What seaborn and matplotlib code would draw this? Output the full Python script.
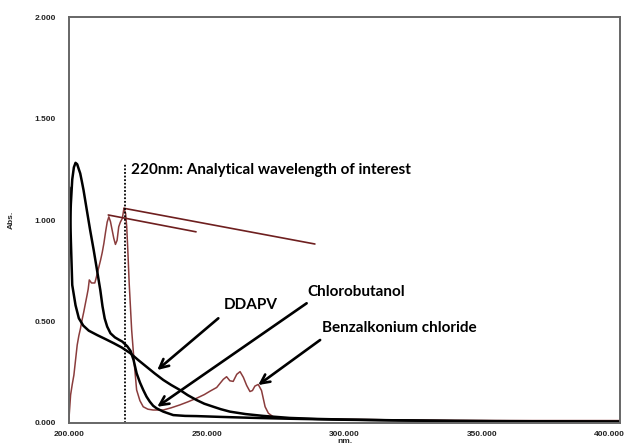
import matplotlib
matplotlib.use("Agg")
import matplotlib.pyplot as plt
import matplotlib.transforms as mtransforms
import seaborn as sns
import pandas as pd

# UV absorption spectra (wavelength in nm, absorbance)
ddapv_nm = [200.0, 200.5, 201.0, 202.2, 203.4, 205.0, 207.0, 210.1, 213.0, 216.1,
            219.0, 222.0, 225.0, 228.0, 231.0, 234.1, 237.0, 240.1, 243.0, 246.2,
            249.0, 252.3, 255.0, 258.3, 264.0, 270.4, 280.0, 290.0, 300.0, 320.0,
            340.0, 360.0, 380.0, 400.0]
ddapv_abs = [1.16, 0.90, 0.68, 0.58, 0.516, 0.48, 0.455, 0.433, 0.414, 0.393,
             0.372, 0.345, 0.31, 0.277, 0.244, 0.212, 0.187, 0.163, 0.137, 0.113,
             0.095, 0.080, 0.068, 0.056, 0.044, 0.035, 0.025, 0.020, 0.017, 0.013,
             0.010, 0.009, 0.008, 0.007]

chloro_nm = [200.0, 200.5, 201.0, 201.6, 202.2, 202.8, 203.4, 203.9, 204.5, 205.1,
             206.3, 207.5, 208.8, 210.0, 211.2, 212.0, 212.8, 213.7, 214.9, 216.5,
             218.0, 219.2, 221.0, 222.2, 223.3, 224.4, 225.6, 226.8, 228.0, 229.2,
             230.4, 231.7, 234.1, 237.7, 242.0, 246.2, 255.0, 265.0, 280.0, 300.0,
             330.0, 360.0, 400.0]
chloro_abs = [0.90, 1.08, 1.20, 1.26, 1.282, 1.275, 1.25, 1.23, 1.19, 1.148,
              1.049, 0.951, 0.852, 0.754, 0.655, 0.575, 0.515, 0.475, 0.442, 0.422,
              0.410, 0.401, 0.378, 0.355, 0.31, 0.245, 0.20, 0.163, 0.13, 0.105,
              0.085, 0.072, 0.056, 0.039, 0.035, 0.034, 0.030, 0.026, 0.021, 0.016,
              0.011, 0.008, 0.006]

benz_nm = [199.8, 200.4, 201.0, 201.6, 202.2, 202.8, 203.4, 204.0, 204.6, 205.2,
           205.8, 206.4, 206.8, 207.2, 208.0, 209.2, 209.6, 210.1, 210.7, 211.3,
           211.9, 212.5, 213.1, 213.7, 214.3, 214.9, 215.5, 216.1, 216.7, 217.3,
           217.9, 218.5, 219.2, 219.8, 220.4, 220.8, 221.2, 221.7, 222.2, 222.6,
           223.5, 224.4, 225.6, 226.8, 228.5, 230.4, 234.1, 237.0, 240.1, 243.0,
           246.2, 249.0, 251.1, 253.5, 255.9, 257.1, 258.3, 259.5, 260.8, 262.0,
           263.2, 264.4, 265.6, 266.5, 267.4, 268.6, 269.8, 271.1, 272.3, 274.1,
           276.0, 280.0, 290.0, 300.0, 320.0, 340.0, 360.0, 380.0, 400.0]
benz_abs = [0.02, 0.138, 0.19, 0.236, 0.31, 0.384, 0.43, 0.466, 0.51, 0.548,
            0.59, 0.631, 0.66, 0.705, 0.69, 0.69, 0.71, 0.737, 0.77, 0.803,
            0.84, 0.885, 0.94, 0.99, 1.016, 0.992, 0.951, 0.91, 0.88, 0.90,
            0.967, 0.99, 1.008, 1.058, 1.033, 0.967, 0.852, 0.688, 0.56, 0.458,
            0.30, 0.163, 0.11, 0.08, 0.068, 0.064, 0.064, 0.075, 0.089, 0.104,
            0.122, 0.14, 0.157, 0.175, 0.215, 0.228, 0.208, 0.205, 0.24, 0.253,
            0.225, 0.185, 0.155, 0.16, 0.182, 0.19, 0.16, 0.08, 0.048, 0.03,
            0.024, 0.022, 0.020, 0.018, 0.015, 0.013, 0.012, 0.012, 0.012]

# peak marker leader lines: (start nm, start abs, end nm, end abs)
peak_leaders = [(214.1, 1.025, 246.0, 0.942),
                (219.8, 1.058, 289.2, 0.882)]

analytical_nm = 220.0
x_ticks = [200, 250, 300, 350, 400]
y_ticks = [0.0, 0.5, 1.0, 1.5, 2.0]

sns.set_style("white")
plt.rcParams["font.family"] = ["Liberation Sans", "DejaVu Sans"]

fig = plt.figure(figsize=(6.26, 4.47), dpi=100)
ax = fig.add_axes([0.111, 0.0537, 0.879, 0.908])

brown = "#8a3c3c"
df_d = pd.DataFrame({"nm": ddapv_nm, "abs": ddapv_abs})
df_c = pd.DataFrame({"nm": chloro_nm, "abs": chloro_abs})
df_b = pd.DataFrame({"nm": benz_nm, "abs": benz_abs})
sns.lineplot(data=df_b, x="nm", y="abs", ax=ax, color=brown, lw=1.1, sort=False, estimator=None)
sns.lineplot(data=df_d, x="nm", y="abs", ax=ax, color="black", lw=1.8, sort=False, estimator=None)
sns.lineplot(data=df_c, x="nm", y="abs", ax=ax, color="black", lw=1.8, sort=False, estimator=None)

for x0, y0, x1, y1 in peak_leaders:
    ax.plot([x0, x1], [y0, y1], color="#6e1f1f", lw=1.2)

ax.plot([analytical_nm, analytical_nm], [0, 1.28], color="black", lw=1.3, ls=(0, (1, 1)))

ax.set_xlim(200, 400)
ax.set_ylim(0, 2.0)
ax.set_xticks(x_ticks)
ax.set_yticks(y_ticks)
ax.set_xticklabels([f"{v:.3f}" for v in x_ticks], fontsize=6, fontweight="bold", color="#222222")
ax.set_yticklabels([f"{v:.3f}" for v in y_ticks], fontsize=6, fontweight="bold", color="#222222")
ax.tick_params(axis="both", direction="in", length=4, width=1, color="#555555")
ax.tick_params(axis="x", pad=6)
ax.tick_params(axis="y", pad=10)
# keep the last wavelength label inside the figure
last = ax.get_xticklabels()[-1]
last.set_transform(last.get_transform() + mtransforms.ScaledTranslation(-10 / 100, 0, fig.dpi_scale_trans))
for s in ax.spines.values():
    s.set_color("#666666")
    s.set_linewidth(1.4)
ax.set_xlabel("nm.", fontsize=6, fontweight="bold", labelpad=0)
ax.set_ylabel("Abs.", fontsize=6, fontweight="bold", labelpad=14)

ann_font = dict(family=["Lato", "DejaVu Sans"], fontweight="bold", color="black")
ax.text(222.3, 1.245, "220nm: Analytical wavelength of interest", fontsize=11, ha="left", va="center", **ann_font)
ax.text(266.0, 0.581, "DDAPV", fontsize=11, ha="center", va="center", **ann_font)
ax.text(304.2, 0.645, "Chlorobutanol", fontsize=11, ha="center", va="center", **ann_font)
ax.text(319.8, 0.470, "Benzalkonium chloride", fontsize=11, ha="center", va="center", **ann_font)

arrow = dict(arrowstyle="->", lw=1.9, color="black", mutation_scale=16, shrinkA=0, shrinkB=0)
ax.annotate("", xy=(231.9, 0.261), xytext=(254.1, 0.516), arrowprops=arrow)
ax.annotate("", xy=(231.9, 0.080), xytext=(286.2, 0.590), arrowprops=arrow)
ax.annotate("", xy=(268.6, 0.187), xytext=(291.1, 0.409), arrowprops=arrow)

fig.savefig("out.png", dpi=100)
